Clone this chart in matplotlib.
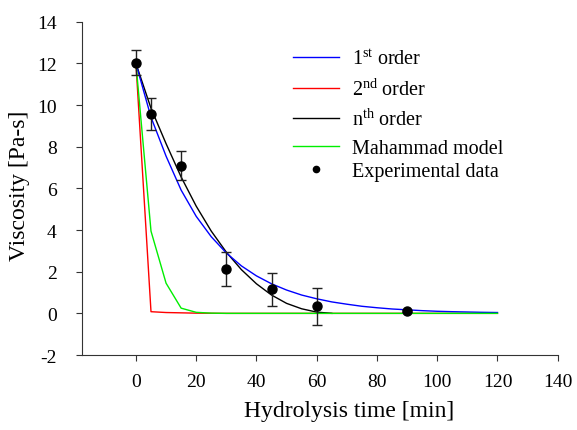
import matplotlib
matplotlib.use("Agg")
import matplotlib.pyplot as plt
from matplotlib.legend import Legend
from matplotlib.lines import Line2D

plt.rcParams["font.family"] = ["Liberation Serif", "DejaVu Serif"]
plt.rcParams["mathtext.fontset"] = "custom"
plt.rcParams["mathtext.rm"] = "Liberation Serif"
plt.rcParams["mathtext.it"] = "Liberation Serif:italic"
plt.rcParams["axes.unicode_minus"] = False

# experimental data
t_exp = [0, 5, 15, 30, 45, 60, 90]
visc_exp = [12.04, 9.58, 7.1, 2.13, 1.16, 0.34, 0.11]
visc_err = [0.6, 0.78, 0.7, 0.8, 0.8, 0.89, 0.05]

# model curves
t_first = [0, 5, 10, 15, 20, 25, 30, 35, 40, 45, 50, 55, 60, 65, 70, 75, 80, 85,
           90, 95, 100, 105, 110, 115, 120]
visc_first = [12.0, 9.42, 7.55, 5.92, 4.66, 3.68, 2.9, 2.28, 1.8, 1.42, 1.12, 0.88,
              0.7, 0.55, 0.44, 0.34, 0.27, 0.21, 0.17, 0.13, 0.1, 0.08, 0.065, 0.05, 0.04]
t_second = [0, 5, 10, 20, 30, 60, 120]
visc_second = [12.0, 0.08, 0.04, 0.01, 0.0, 0.0, 0.0]
t_nth = [0, 5, 10, 15, 20, 25, 30, 35, 40, 45, 50, 55, 60, 65]
visc_nth = [12.0, 9.85, 8.15, 6.55, 5.15, 3.95, 2.94, 2.1, 1.42, 0.88, 0.48, 0.22, 0.06, 0.0]
t_mah = [0, 5, 10, 15, 20, 25, 30, 60, 90, 120]
visc_mah = [12.0, 3.95, 1.45, 0.25, 0.05, 0.01, 0.0, 0.0, 0.0, 0.0]

labels = [r"1$^{\mathrm{st}}$ order", r"2$^{\mathrm{nd}}$ order", r"n$^{\mathrm{th}}$ order",
          "Mahammad model", "Experimental data"]
colors = ["#0000ff", "#ff0000", "black", "#00ee00"]
legend_rows = [0.889, 0.797, 0.707, 0.621, 0.552]  # axes-fraction row centres

fig = plt.figure(figsize=(5.77, 4.31), dpi=100)
ax = fig.add_axes([0.1416, 0.174, 0.825, 0.773])

ax.plot(t_second, visc_second, color=colors[1], lw=1.0)
ax.plot(t_nth, visc_nth, color=colors[2], lw=1.0)
ax.plot(t_first, visc_first, color=colors[0], lw=1.0)
ax.plot(t_mah, visc_mah, color=colors[3], lw=1.0)
ax.errorbar(t_exp, visc_exp, yerr=visc_err, fmt="o", color="black", ms=6.5,
            ecolor="#222222", elinewidth=1.0, capsize=3.8, capthick=1.0, zorder=5)

handles = [Line2D([], [], color=c, lw=1.0) for c in colors]
handles.append(Line2D([], [], color="black", marker="o", ms=4.5, ls="none"))
# SigmaPlot-style legend: superscript rows sit further apart, so one legend per row
for h, lab, y in zip(handles, labels, legend_rows):
    leg = Legend(ax, [h], [lab], loc="center left", bbox_to_anchor=(0.443, y),
                 frameon=False, fontsize=14.5, handlelength=2.3,
                 handletextpad=0.63, borderpad=0, borderaxespad=0)
    ax.add_artist(leg)

ax.set_xlim(-18, 140)
ax.set_ylim(-2, 14)
ax.set_xticks(range(0, 141, 20))
ax.set_yticks(range(-2, 15, 2))
for s in ["top", "right"]:
    ax.spines[s].set_visible(False)
for s in ["left", "bottom"]:
    ax.spines[s].set_color("#333333")
ax.tick_params(direction="out", length=4, color="#333333", labelsize=14)
ax.tick_params(axis="x", pad=9)
ax.tick_params(axis="y", pad=14)
ax.set_xlabel("Hydrolysis time [min]", fontsize=17)
ax.xaxis.set_label_coords(0.5615, -0.135)
ax.set_ylabel("Viscosity [Pa-s]", fontsize=17)
ax.yaxis.set_label_coords(-0.109, 0.51)

fig.savefig("out.png", dpi=100)
